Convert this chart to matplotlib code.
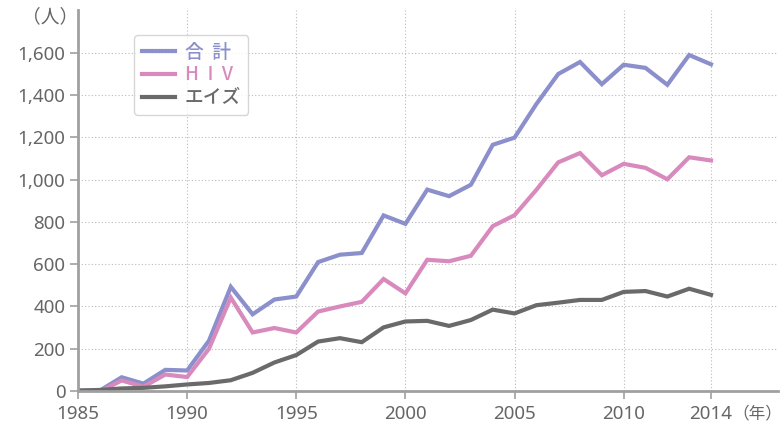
import numpy as np
import matplotlib.pyplot as plt

plt.rcParams['font.family'] = ['Noto Sans', 'Noto Sans CJK JP', 'DejaVu Sans']

# データ（1985〜2014年）
years = list(range(1985, 2015))
total = [2, 2, 65, 35, 100, 97, 238, 493, 363, 433, 447, 610, 645, 653, 831, 791,
         953, 922, 976, 1165, 1199, 1358, 1500, 1557, 1452, 1544, 1529, 1449, 1590, 1546]
hiv = [0, -3, 50, 20, 78, 66, 200, 442, 277, 298, 277, 376, 400, 422, 530, 462,
       621, 614, 640, 780, 832, 952, 1082, 1126, 1021, 1075, 1056, 1002, 1106, 1091]
aids = [2, 5, 12, 15, 22, 31, 38, 51, 86, 135, 170, 234, 250, 231, 301, 329,
        332, 308, 336, 385, 367, 406, 418, 431, 431, 469, 473, 447, 484, 455]
labels = ['合  計', 'H  I  V', 'エイズ']
colors = ['#8b8fcb', '#d98abd', '#6a6a6a']
xticks = [1985, 1990, 1995, 2000, 2005, 2010, 2014]
yticks = list(range(0, 1601, 200))

fig = plt.figure(figsize=(7.82, 4.26), dpi=100)
ax = fig.add_axes([78 / 782, 35 / 426, 700 / 782, 381 / 426])

for vals, lab, c in zip([total, hiv, aids], labels, colors):
    ax.plot(years, vals, color=c, lw=3.0, label=lab, solid_joinstyle='miter')

ax.set_xlim(1985, 2017.07)
ax.set_ylim(0, 1803)
ax.set_xticks(xticks)
ax.set_yticks(yticks)
ax.set_yticklabels([f'{v:,}' for v in yticks])

ax.grid(True, ls=(0, (1, 2)), color='#bbbbbb', lw=0.8)
ax.set_axisbelow(True)
for s in ['top', 'right']:
    ax.spines[s].set_visible(False)
for s in ['left', 'bottom']:
    ax.spines[s].set_color('#a0a0a0')
    ax.spines[s].set_linewidth(2)
ax.tick_params(colors='#a0a0a0', labelcolor='#666666', labelsize=13.5, length=6, width=1.2)
ax.tick_params(axis='x', pad=4)
ax.tick_params(axis='y', pad=3)

fig.text(50 / 782, 1 - 17 / 426, '（人）', ha='center', va='center', fontsize=13.5, color='#666666',
         family='Noto Sans CJK JP')
fig.text(757 / 782, 1 - 414 / 426, '（年）', ha='center', va='center', fontsize=12, color='#666666',
         family='Noto Sans CJK JP')

leg = ax.legend(loc='upper left', bbox_to_anchor=(0.08, 0.934), frameon=True,
                handlelength=1.8, handletextpad=0.5, borderpad=0.4, labelspacing=0.2,
                borderaxespad=0, fancybox=True, edgecolor='#cccccc',
                prop={'family': ['Noto Sans CJK JP', 'DejaVu Sans'], 'size': 13.5,
                      'weight': 'medium'})
leg.get_frame().set_linewidth(1.0)
for t, c in zip(leg.get_texts(), colors):
    t.set_color(c)

fig.savefig('out.png', dpi=100)
